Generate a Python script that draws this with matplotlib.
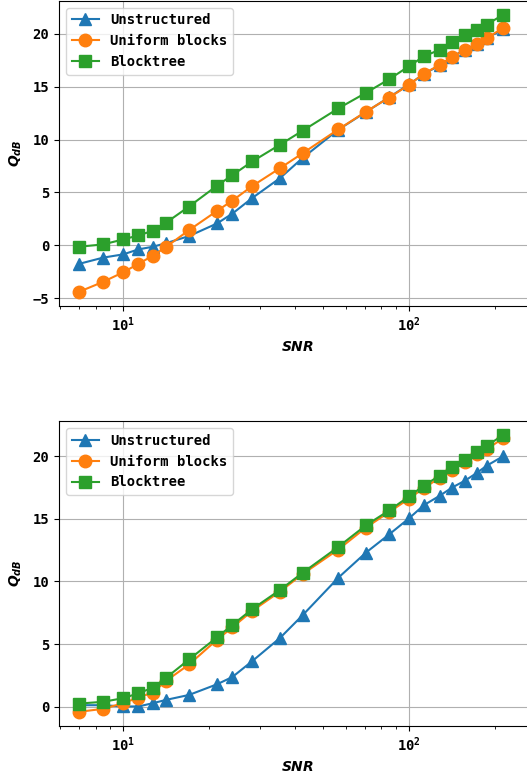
import matplotlib
matplotlib.use("Agg")
import matplotlib.pyplot as plt
from matplotlib.ticker import FuncFormatter, LogLocator
import numpy as np

plt.rcParams['font.family'] = ['DejaVu Sans Mono']
plt.rcParams['font.weight'] = 'bold'
plt.rcParams['font.size'] = 10
plt.rcParams['mathtext.fontset'] = 'custom'
plt.rcParams['mathtext.rm'] = 'DejaVu Sans Mono:bold'
plt.rcParams['mathtext.it'] = 'DejaVu Sans:italic:bold'
plt.rcParams['mathtext.bf'] = 'DejaVu Sans:bold'

snr = [7.0, 8.5, 10.0, 11.3, 12.7, 14.1, 17.0, 21.3, 24.1, 28.3, 35.4, 42.5,
       56.6, 70.7, 85.3, 100.0, 112.8, 128.0, 141.5, 157.0, 172.6, 187.0, 214.0]

# first experiment
unstructured_a = [-1.75, -1.16, -0.85, -0.38, -0.13, 0.2, 0.88, 2.07, 3.0, 4.48, 6.36, 8.27,
                  10.93, 12.6, 14.0, 15.2, 16.2, 17.0, 17.8, 18.5, 19.0, 19.6, 20.4]
uniform_a = [-4.39, -3.45, -2.54, -1.75, -0.97, -0.16, 1.44, 3.26, 4.23, 5.61, 7.3, 8.71,
             10.96, 12.63, 13.97, 15.16, 16.23, 17.04, 17.8, 18.45, 19.05, 19.55, 20.58]
blocktree_a = [-0.13, 0.09, 0.56, 0.94, 1.38, 2.13, 3.67, 5.64, 6.64, 7.93, 9.52, 10.84,
               12.94, 14.41, 15.7, 16.92, 17.86, 18.48, 19.17, 19.86, 20.33, 20.86, 21.8]

# second experiment
unstructured_b = [0.13, 0.13, 0.03, 0.03, 0.29, 0.55, 0.95, 1.8, 2.38, 3.65, 5.5, 7.32,
                  10.3, 12.3, 13.76, 15.03, 16.09, 16.83, 17.49, 18.04, 18.65, 19.23, 20.0]
uniform_b = [-0.4, -0.16, 0.29, 0.74, 1.14, 2.06, 3.38, 5.36, 6.34, 7.66, 9.2, 10.6,
             12.55, 14.3, 15.54, 16.6, 17.46, 18.26, 18.9, 19.52, 20.16, 20.55, 21.43]
blocktree_b = [0.26, 0.4, 0.69, 1.08, 1.53, 2.3, 3.78, 5.55, 6.53, 7.8, 9.33, 10.7,
               12.76, 14.48, 15.67, 16.78, 17.65, 18.44, 19.1, 19.68, 20.29, 20.82, 21.69]

labels = ['Unstructured', 'Uniform blocks', 'Blocktree']
markers = ['^', 'o', 's']


def decade_label(x, pos):
    return '10$^{%d}$' % round(np.log10(x))


fig = plt.figure(figsize=(5.27, 7.83), dpi=100)
ax1 = fig.add_axes([0.112, 0.6096, 0.903, 0.3894])
ax2 = fig.add_axes([0.112, 0.0732, 0.903, 0.389])

for ax, series in [(ax1, [unstructured_a, uniform_a, blocktree_a]),
                   (ax2, [unstructured_b, uniform_b, blocktree_b])]:
    for ys, lab, m in zip(series, labels, markers):
        ax.plot(snr, ys, marker=m, markersize=9, linewidth=1.5, label=lab)
    ax.set_xscale('log')
    ax.set_xlim(5.96, 276)
    ax.xaxis.set_major_locator(LogLocator(base=10))
    ax.xaxis.set_major_formatter(FuncFormatter(decade_label))
    ax.grid(True)
    ax.set_xlabel('$SNR$', fontsize=10)
    ax.set_ylabel('$Q_{dB}$', fontsize=10, labelpad=6)
    ax.legend(loc='upper left')

fig.savefig('out.png', dpi=100)
